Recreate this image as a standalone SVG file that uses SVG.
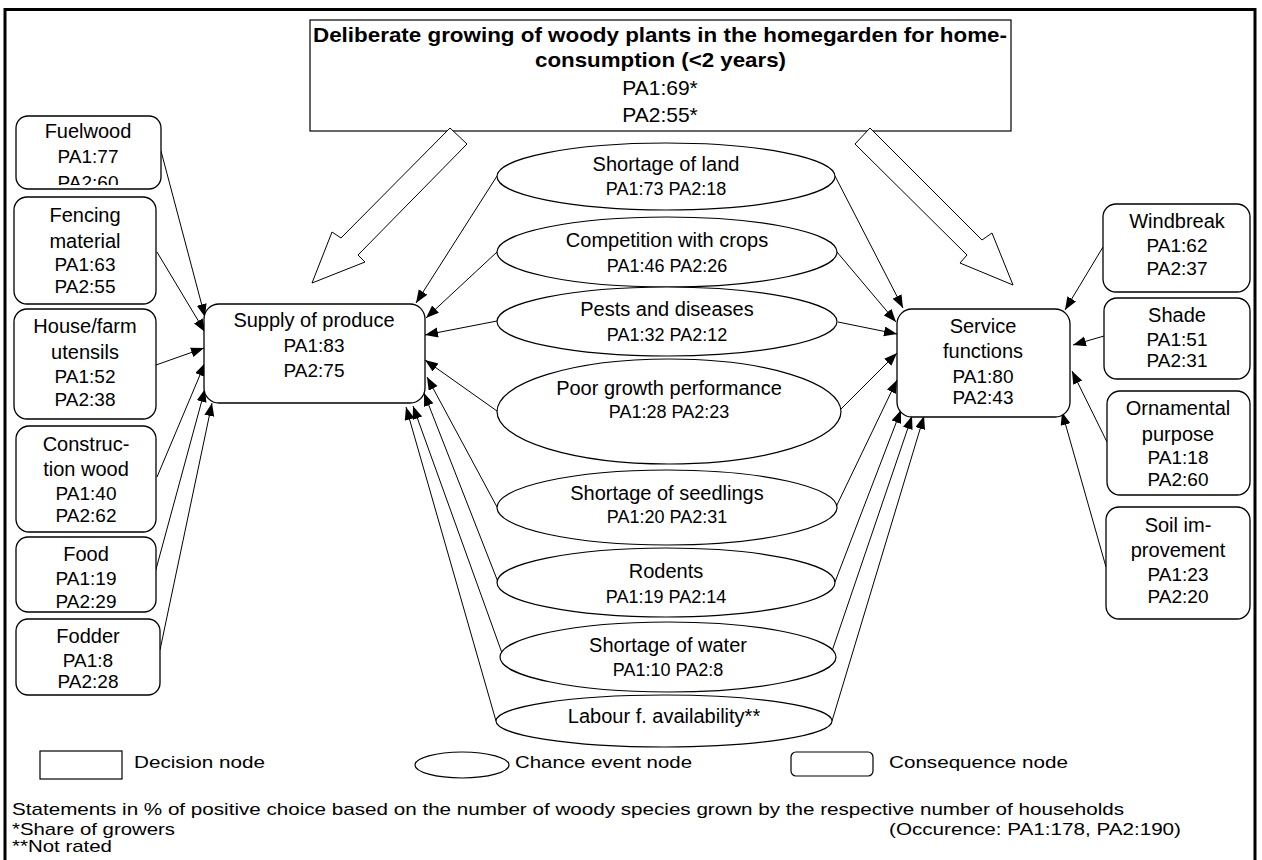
<svg xmlns="http://www.w3.org/2000/svg" width="1262" height="860" viewBox="0 0 1262 860">
<style>
text{font-family:"Liberation Sans",Arial,sans-serif;fill:#000}
.nm{font-size:20px;text-anchor:middle}
.nu{font-size:19px;text-anchor:middle}
.en{font-size:18px;text-anchor:middle}
.ft{font-size:17px}
.cons{fill:#fff;stroke:#000;stroke-width:1.3}
.ell{fill:#fff;stroke:#000;stroke-width:1.2}
.con line{stroke:#000;stroke-width:1;marker-end:url(#ah)}
.hol{fill:#fff;stroke:#000;stroke-width:1}
</style>
<defs>
<marker id="ah" markerUnits="userSpaceOnUse" markerWidth="14" markerHeight="11" refX="13" refY="5" orient="auto">
<path d="M0,0 L13,5 L0,10 z" fill="#000"/>
</marker>
<clipPath id="fwclip"><rect x="16" y="116" width="145" height="69"/></clipPath>
</defs>
<rect x="0" y="0" width="1262" height="860" fill="#fff"/>
<path d="M5,870 L5,9.5 L1255,9.5 L1255,870" fill="none" stroke="#000" stroke-width="3"/>

<g id="decision">
<rect x="310" y="20" width="701" height="111" fill="#fff" stroke="#000" stroke-width="1.2"/>
<text x="313" y="42" style="font-size:21px;font-weight:bold" textLength="694" lengthAdjust="spacingAndGlyphs">Deliberate growing of woody plants in the homegarden for home-</text>
<text x="660.5" y="67" style="font-size:21px;font-weight:bold;text-anchor:middle" textLength="251" lengthAdjust="spacingAndGlyphs">consumption (&lt;2 years)</text>
<text x="660" y="95" style="font-size:21px;text-anchor:middle">PA1:69*</text>
<text x="660" y="122" style="font-size:21px;text-anchor:middle">PA2:55*</text>
</g>

<g id="hollow-arrows">
<polygon class="hol" points="450,128 467,144 358,255 365,262 312,283 332,232 341,238"/>
<polygon class="hol" points="870,128 982,240 992,233 1013,285 960,263 967,255 855,144"/>
</g>

<g class="con" id="connectors">
<line x1="161" y1="151" x2="205" y2="317"/>
<line x1="157" y1="252" x2="205" y2="332"/>
<line x1="156" y1="365" x2="204" y2="348"/>
<line x1="157" y1="477" x2="205" y2="363"/>
<line x1="155" y1="573" x2="205" y2="389"/>
<line x1="160" y1="650" x2="212" y2="403"/>
<line x1="497" y1="176" x2="416" y2="303"/>
<line x1="497" y1="252" x2="426" y2="318"/>
<line x1="497" y1="321" x2="425" y2="335"/>
<line x1="497" y1="411" x2="425" y2="360"/>
<line x1="497" y1="507" x2="427" y2="377"/>
<line x1="498" y1="582" x2="424" y2="393"/>
<line x1="502" y1="653" x2="413" y2="406"/>
<line x1="496" y1="721" x2="406" y2="407"/>
<line x1="835" y1="176" x2="903" y2="308"/>
<line x1="837" y1="252" x2="896" y2="322"/>
<line x1="838" y1="322" x2="897" y2="334"/>
<line x1="838" y1="412" x2="897" y2="353"/>
<line x1="836" y1="507" x2="897" y2="380"/>
<line x1="835" y1="582" x2="901" y2="410"/>
<line x1="830" y1="657" x2="912" y2="416"/>
<line x1="832" y1="721" x2="924" y2="416"/>
<line x1="1103" y1="247" x2="1065" y2="310"/>
<line x1="1104" y1="336" x2="1073" y2="345"/>
<line x1="1107" y1="442" x2="1072" y2="371"/>
<line x1="1106" y1="567" x2="1062" y2="412"/>
</g>

<g id="fuelwood">
<rect class="cons" x="16" y="116" width="145" height="73" rx="12"/>
<g clip-path="url(#fwclip)">
<text class="nm" x="88" y="138">Fuelwood</text>
<text class="nu" x="88" y="163">PA1:77</text>
<text class="nu" x="88" y="189">PA2:60</text>
</g>
</g>
<g id="fencing">
<rect class="cons" x="14" y="197" width="142" height="107" rx="13"/>
<text class="nm" x="85" y="222">Fencing</text>
<text class="nm" x="85" y="248">material</text>
<text class="nu" x="85" y="271">PA1:63</text>
<text class="nu" x="85" y="293">PA2:55</text>
</g>
<g id="house">
<rect class="cons" x="14" y="309" width="142" height="110" rx="13"/>
<text class="nm" x="85" y="333">House/farm</text>
<text class="nm" x="85" y="359">utensils</text>
<text class="nu" x="85" y="383">PA1:52</text>
<text class="nu" x="85" y="406">PA2:38</text>
</g>
<g id="construction">
<rect class="cons" x="16" y="426" width="140" height="106" rx="13"/>
<text class="nm" x="86" y="451">Construc-</text>
<text class="nm" x="86" y="476">tion wood</text>
<text class="nu" x="86" y="500">PA1:40</text>
<text class="nu" x="86" y="522">PA2:62</text>
</g>
<g id="food">
<rect class="cons" x="16" y="537" width="140" height="75" rx="12"/>
<text class="nm" x="86" y="561">Food</text>
<text class="nu" x="86" y="585">PA1:19</text>
<text class="nu" x="86" y="608">PA2:29</text>
</g>
<g id="fodder">
<rect class="cons" x="16" y="619" width="144" height="76" rx="12"/>
<text class="nm" x="88" y="643">Fodder</text>
<text class="nu" x="88" y="667">PA1:8</text>
<text class="nu" x="88" y="688">PA2:28</text>
</g>

<g id="supply">
<rect class="cons" x="204" y="304" width="221" height="99" rx="15"/>
<text class="nm" x="314" y="327">Supply of produce</text>
<text class="nu" x="314" y="352">PA1:83</text>
<text class="nu" x="314" y="377">PA2:75</text>
</g>

<g id="service">
<rect class="cons" x="897" y="309" width="173" height="108" rx="15"/>
<text class="nm" x="983" y="333">Service</text>
<text class="nm" x="983" y="358">functions</text>
<text class="nu" x="983" y="383">PA1:80</text>
<text class="nu" x="983" y="404">PA2:43</text>
</g>

<g id="e-land">
<ellipse class="ell" cx="666" cy="176.5" rx="169" ry="33.5"/>
<text class="nm" x="666" y="171">Shortage of land</text>
<text class="en" x="666" y="195">PA1:73 PA2:18</text>
</g>
<g id="e-competition">
<ellipse class="ell" cx="667" cy="252" rx="170" ry="35"/>
<text class="nm" x="667" y="247">Competition with crops</text>
<text class="en" x="667" y="272">PA1:46 PA2:26</text>
</g>
<g id="e-pests">
<ellipse class="ell" cx="667" cy="321.5" rx="170" ry="34.5"/>
<text class="nm" x="667" y="316">Pests and diseases</text>
<text class="en" x="667" y="341">PA1:32 PA2:12</text>
</g>
<g id="e-poor">
<ellipse class="ell" cx="669" cy="411.5" rx="172" ry="52.5"/>
<text class="nm" x="669" y="395">Poor growth performance</text>
<text class="en" x="669" y="418">PA1:28 PA2:23</text>
</g>
<g id="e-seedlings">
<ellipse class="ell" cx="667" cy="507.5" rx="170" ry="37.5"/>
<text class="nm" x="667" y="500">Shortage of seedlings</text>
<text class="en" x="667" y="523">PA1:20 PA2:31</text>
</g>
<g id="e-rodents">
<ellipse class="ell" cx="666" cy="582.5" rx="169" ry="34.5"/>
<text class="nm" x="666" y="578">Rodents</text>
<text class="en" x="666" y="603">PA1:19 PA2:14</text>
</g>
<g id="e-water">
<ellipse class="ell" cx="668" cy="657" rx="168" ry="35"/>
<text class="nm" x="668" y="652">Shortage of water</text>
<text class="en" x="668" y="676">PA1:10 PA2:8</text>
</g>
<g id="e-labour">
<ellipse class="ell" cx="664" cy="721" rx="168" ry="26"/>
<text class="nm" x="664" y="723">Labour f. availability**</text>
</g>

<g id="windbreak">
<rect class="cons" x="1103" y="204" width="147" height="88" rx="13"/>
<text class="nm" x="1177" y="228">Windbreak</text>
<text class="nu" x="1177" y="252">PA1:62</text>
<text class="nu" x="1177" y="275">PA2:37</text>
</g>
<g id="shade">
<rect class="cons" x="1104" y="298" width="146" height="81" rx="13"/>
<text class="nm" x="1177" y="322">Shade</text>
<text class="nu" x="1177" y="346">PA1:51</text>
<text class="nu" x="1177" y="367">PA2:31</text>
</g>
<g id="ornamental">
<rect class="cons" x="1107" y="391" width="143" height="104" rx="13"/>
<text class="nm" x="1178" y="415">Ornamental</text>
<text class="nm" x="1178" y="441">purpose</text>
<text class="nu" x="1178" y="464">PA1:18</text>
<text class="nu" x="1178" y="486">PA2:60</text>
</g>
<g id="soil">
<rect class="cons" x="1106" y="507" width="144" height="112" rx="13"/>
<text class="nm" x="1178" y="532">Soil im-</text>
<text class="nm" x="1178" y="557">provement</text>
<text class="nu" x="1178" y="581">PA1:23</text>
<text class="nu" x="1178" y="603">PA2:20</text>
</g>

<g id="legend">
<rect x="40" y="751" width="82" height="28" fill="#fff" stroke="#000" stroke-width="1.2"/>
<text class="ft" x="134" y="768" textLength="131" lengthAdjust="spacingAndGlyphs">Decision node</text>
<ellipse cx="462" cy="765" rx="47" ry="13" fill="#fff" stroke="#000" stroke-width="1.2"/>
<text class="ft" x="515" y="768" textLength="177" lengthAdjust="spacingAndGlyphs">Chance event node</text>
<rect x="791" y="752" width="82" height="24" rx="5" fill="#fff" stroke="#000" stroke-width="1.2"/>
<text class="ft" x="889" y="768" textLength="179" lengthAdjust="spacingAndGlyphs">Consequence node</text>
</g>

<g id="footer">
<text class="ft" x="12" y="815" textLength="1112" lengthAdjust="spacingAndGlyphs">Statements in % of positive choice based on the number of woody species grown by the respective number of households</text>
<text class="ft" x="12" y="835" textLength="163" lengthAdjust="spacingAndGlyphs">*Share of growers</text>
<text class="ft" x="889" y="835" textLength="292" lengthAdjust="spacingAndGlyphs">(Occurence: PA1:178, PA2:190)</text>
<text class="ft" x="12" y="852" textLength="100" lengthAdjust="spacingAndGlyphs">**Not rated</text>
</g>
</svg>
